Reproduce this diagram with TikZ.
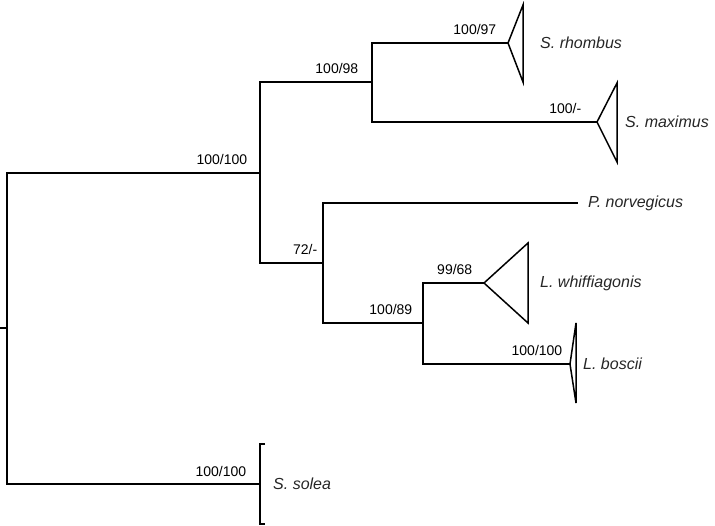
\documentclass[tikz,border=0pt]{standalone}
\usepackage{fontspec}
\setmainfont{Liberation Sans}
\usepackage{tikz}
\usetikzlibrary{positioning}

\begin{document}
\begin{tikzpicture}[
x=1pt, y=-1pt,
font=\fontsize{14}{16}\selectfont,
branch/.style={line width=1.5pt, line cap=rect},
clade/.style={line width=1.5pt, line join=miter},
support/.style={anchor=base east, inner sep=0pt, yshift=8pt},
taxon/.style={anchor=west, inner sep=0pt, font=\fontsize{16}{18}\selectfont\itshape, text=black!85}
]
    \useasboundingbox (0,0) rectangle (715,526);

    % Internal nodes
    \draw
    (7,328) coordinate (root)
    (260,173) coordinate (flat)
    (372,82) coordinate (scoph)
    (323,263) coordinate (lepi)
    (423,323) coordinate (lepi2);

    % Tips
    \draw
    (508,43) coordinate (rho)
    (597,122) coordinate (max)
    (577,203) coordinate (nor)
    (484,283) coordinate (whi)
    (570,364) coordinate (bos)
    (260,484) coordinate (sol);

    % Draw branches
    \draw[branch] (root) -- ++(-7,0);
    \draw[branch] (root) |- (flat) node[support, xshift=-12pt]{100/100};
    \draw[branch] (root) |- (sol) node[support, xshift=-13pt]{100/100};
    \draw[branch] (flat) |- (scoph) node[support, xshift=-13pt]{100/98};
    \draw[branch] (flat) |- (lepi) node[support, xshift=-5pt]{72/-};
    \draw[branch] (scoph) |- (rho) node[support, xshift=-11pt]{100/97};
    \draw[branch] (scoph) |- (max) node[support, xshift=-15pt]{100/-};
    \draw[branch] (lepi) |- (nor);
    \draw[branch] (lepi) |- (lepi2) node[support, xshift=-10pt]{100/89};
    \draw[branch] (lepi2) |- (whi) node[support, xshift=-11pt]{99/68};
    \draw[branch] (lepi2) |- (bos) node[support, xshift=-7pt]{100/100};

    % Collapsed clades
    \draw[clade] (rho) -- (523,5) -- (523,82) -- cycle;
    \draw[clade] (max) -- (617,83) -- (617,162) -- cycle;
    \draw[clade] (whi) -- (528,243) -- (528,323) -- cycle;
    \draw[clade] (bos) -- (576,323) -- (576,403) -- cycle;
    \draw[clade] (265,444) -- (sol |- 0,444) -- (sol |- 0,524) -- (265,524);

    % Taxon names
    \node[taxon] (rhombus) at (540,43) {S. rhombus};
    \node[taxon] (maximus) at (625,122) {S. maximus};
    \node[taxon] (norvegicus) at (588,203) {P. norvegicus};
    \node[taxon] (whiffiagonis) at (540,283) {L. whiffiagonis};
    \node[taxon] (boscii) at (583,364) {L. boscii};
    \node[taxon] (solea) at (273,484) {S. solea};

\end{tikzpicture}
\end{document}
